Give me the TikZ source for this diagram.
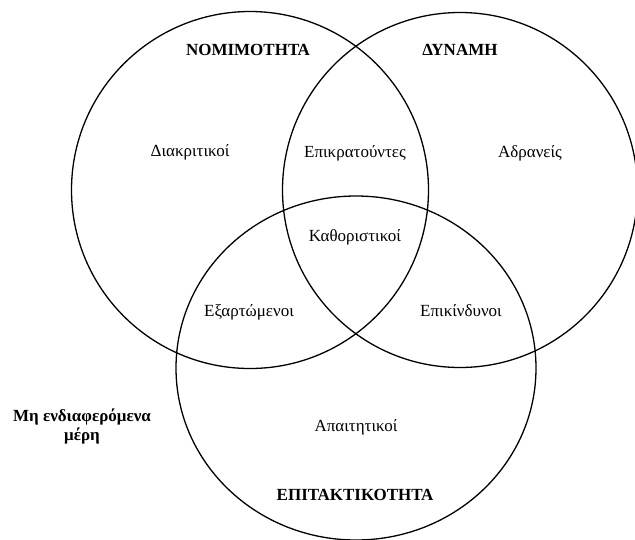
\documentclass[tikz,border=0pt]{standalone}
\usepackage{fontspec}
\setmainfont{Liberation Serif}
\begin{document}
\begin{tikzpicture}[x=1pt,y=-1pt,
  ring/.style={draw=black,line width=1.3pt},
  lbl/.style={font=\fontsize{17}{19}\selectfont,inner sep=0pt,anchor=center},
  ttl/.style={font=\fontsize{17}{19}\selectfont\bfseries,inner sep=0pt,anchor=center}]
\useasboundingbox (0,0) rectangle (635,539);
\clip (0,0) rectangle (635,539);
\fill[white] (0,0) rectangle (635,539);
\coordinate (cL) at (250,190);
\coordinate (cR) at (460,190);
\coordinate (cB) at (356,368);
\draw[ring] (cL) circle[radius=178.5];
\draw[ring] (cR) circle[radius=177.5];
\draw[ring] (cB) ellipse[x radius=180,y radius=172];
\node[ttl] (nom) at (248,50) {ΝΟΜΙΜΟΤΗΤΑ};
\node[ttl] (dyn) at (460,50) {ΔΥΝΑΜΗ};
\node[ttl] (epit) at (355,495) {ΕΠΙΤΑΚΤΙΚΟΤΗΤΑ};
\node[lbl] (diak) at (190,152) {Διακριτικοί};
\node[lbl] (epikr) at (355,153) {Επικρατούντες};
\node[lbl] (adr) at (530,153) {Αδρανείς};
\node[lbl] (kath) at (355,237) {Καθοριστικοί};
\node[lbl] (exar) at (249,312) {Εξαρτώμενοι};
\node[lbl] (epik) at (461,311) {Επικίνδυνοι};
\node[lbl] (apai) at (356,427) {Απαιτητικοί};
\node[ttl,align=center] (mh) at (82,426) {Μη ενδιαφερόμενα\\[0pt]μέρη};
\end{tikzpicture}
\end{document}
